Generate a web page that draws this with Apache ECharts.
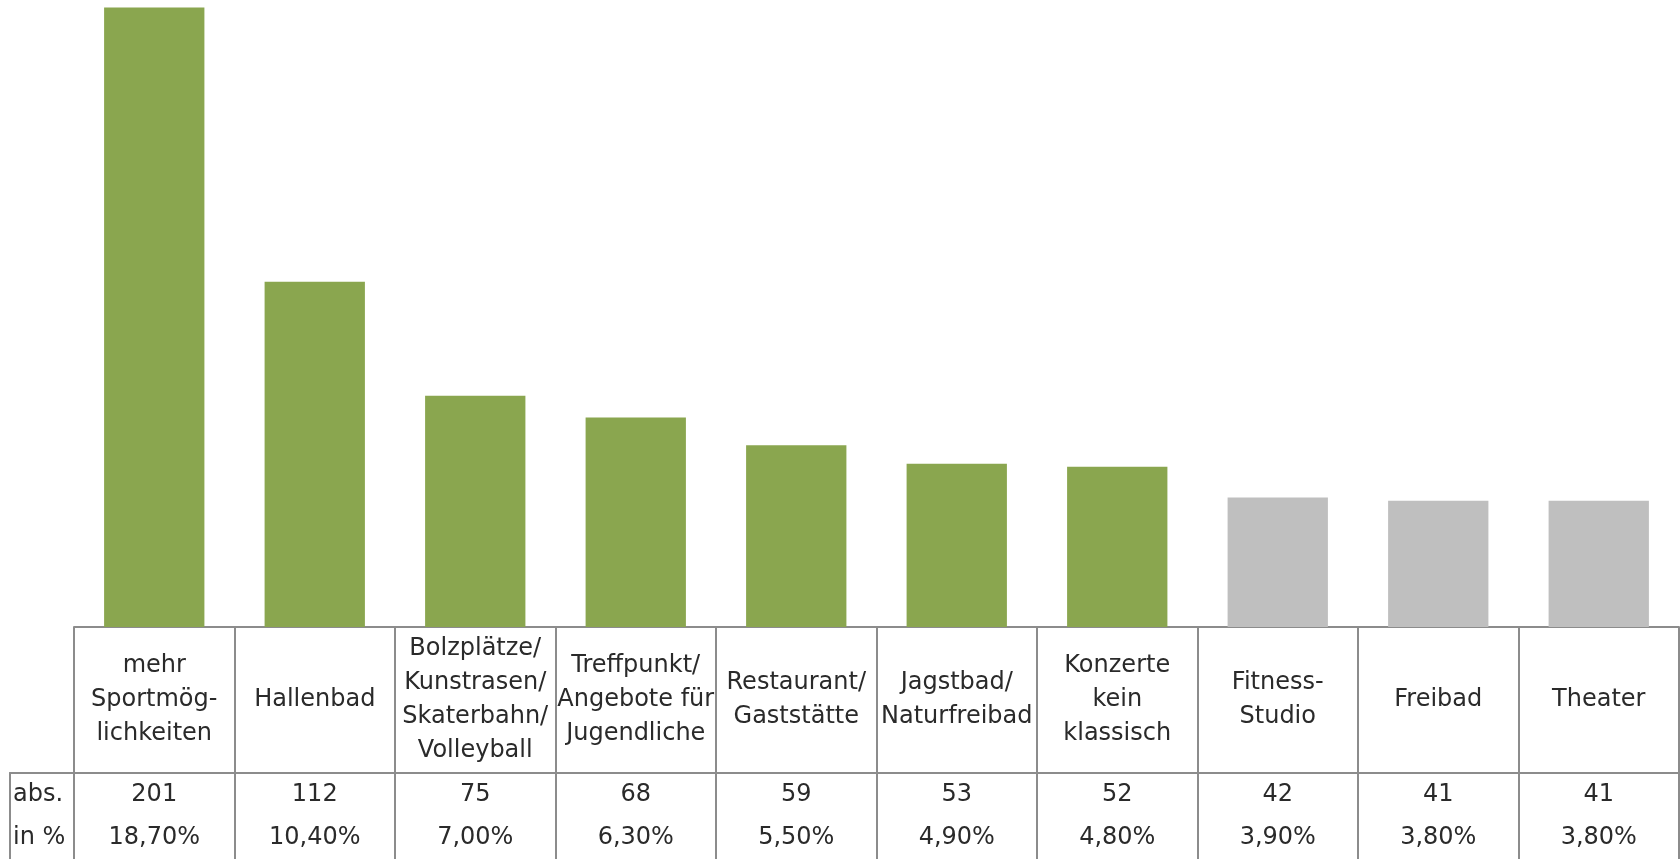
<!DOCTYPE html>
<html><head><meta charset="utf-8">
<script src="https://cdn.jsdelivr.net/npm/echarts@6/dist/echarts.min.js"></script>
<style>html,body{margin:0;padding:0;background:#fff;overflow:hidden}#c{width:1680px;height:859px}</style>
</head><body><div id="c"></div>
<script>
const categories = ['mehr\nSportmög-\nlichkeiten', 'Hallenbad', 'Bolzplätze/\nKunstrasen/\nSkaterbahn/\nVolleyball', 'Treffpunkt/\nAngebote für\nJugendliche', 'Restaurant/\nGaststätte', 'Jagstbad/\nNaturfreibad', 'Konzerte\nkein\nklassisch', 'Fitness-\nStudio', 'Freibad', 'Theater'];
const absValues = [201, 112, 75, 68, 59, 53, 52, 42, 41, 41];
const pctValues = [18.7, 10.4, 7.0, 6.3, 5.5, 4.9, 4.8, 3.9, 3.8, 3.8];
const rowHeaders = ['abs.', 'in %'];
const highlightCount = 7;

const GREEN = '#8AA64F', GREY = '#BFBFBF', LINE = '#8C8C8C', TEXT = '#2a2a2a';
const FONT = 'DejaVu Sans';
const textStyle = { fontFamily: FONT, fontSize: 24, fontWeight: 'normal', color: TEXT, lineHeight: 34, textBorderWidth: 0, textShadowBlur: 0, opacity: 1 };
const fmtPct = v => v.toFixed(2).replace('.', ',') + '%';

const chart = echarts.init(document.getElementById('c'), null, { renderer: 'canvas' });
const hiddenVal = (gi) => ({ type: 'value', gridIndex: gi, min: 0, max: 1, show: false });
const lineStyle = { color: LINE, width: 2 };

const labelSeries = (xi, yi, data, fmt) => ({
  type: 'scatter', xAxisIndex: xi, yAxisIndex: yi, silent: true, symbolSize: 1,
  itemStyle: { color: '#ffffff', opacity: 1 },
  emphasis: { disabled: true },
  data: data,
  label: Object.assign({ show: true, position: 'inside', align: 'center', verticalAlign: 'middle', formatter: fmt }, textStyle)
});

const option = {
  animation: false,
  grid: [
    { left: 74, right: 1, top: 7.5, bottom: 232 },
    { left: 74, right: 1, top: 627, height: 146 },
    { left: 74, right: 1, top: 773, bottom: 0 },
    { left: 10, width: 64, top: 773, bottom: 0 }
  ],
  xAxis: [
    { type: 'category', gridIndex: 0, data: categories, axisLine: { lineStyle }, axisTick: { show: false }, axisLabel: { show: false } },
    { type: 'category', gridIndex: 1, data: categories, position: 'top', axisLine: { show: false }, axisTick: { show: false }, axisLabel: { show: false }, splitLine: { show: true, lineStyle } },
    { type: 'category', gridIndex: 2, data: categories, position: 'top', axisLine: { show: true, onZero: false, lineStyle }, axisTick: { show: false }, axisLabel: { show: false }, splitLine: { show: true, lineStyle } },
    { type: 'value', gridIndex: 3, min: 0, max: 1, position: 'top', axisLine: { show: true, onZero: false, lineStyle }, axisTick: { show: false }, axisLabel: { show: false }, splitLine: { show: false } }
  ],
  yAxis: [
    { type: 'value', gridIndex: 0, min: 0, max: 'dataMax', show: false },
    hiddenVal(1),
    { type: 'category', gridIndex: 2, data: rowHeaders, inverse: true, show: false },
    { type: 'category', gridIndex: 3, data: rowHeaders, inverse: true, position: 'left',
      axisLine: { show: true, onZero: false, lineStyle }, axisTick: { show: false }, splitLine: { show: false },
      axisLabel: Object.assign({ inside: true, margin: 3, align: 'left' }, textStyle) }
  ],
  series: [
    { type: 'bar', xAxisIndex: 0, yAxisIndex: 0, data: absValues, barWidth: '62.5%', silent: true,
      itemStyle: { color: p => p.dataIndex < highlightCount ? GREEN : GREY } },
    labelSeries(1, 1, categories.map((c, i) => [i, 0.5]), p => categories[p.dataIndex]),
    labelSeries(2, 2, absValues.map((v, i) => [i, 0]), p => String(absValues[p.dataIndex])),
    labelSeries(2, 2, pctValues.map((v, i) => [i, 1]), p => fmtPct(pctValues[p.dataIndex]))
  ]
};
chart.setOption(option);
</script>
</body></html>
